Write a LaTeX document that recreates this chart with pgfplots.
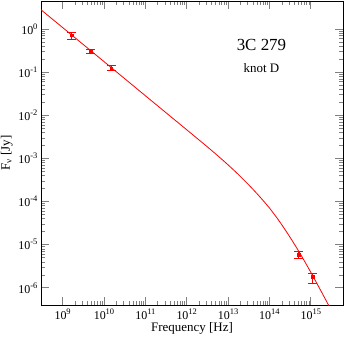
\documentclass[border=0pt]{standalone}
\usepackage{fontspec}
\setmainfont{Liberation Serif}
\usepackage{pgfplots}
\pgfplotsset{compat=1.18}
\definecolor{gred}{RGB}{255,0,0}
\pgfplotsset{ebar/.style={gred, line width=0.8bp, no marks, forget plot}}
\begin{document}
\begin{tikzpicture}
\begin{axis}[
  name=ax,
  scale only axis,
  width=302bp, height=304bp,
  xmode=log, ymode=log,
  xmin=3e8, xmax=6e15,
  ymin=4e-7, ymax=4.5,
  xtick={1e9,1e10,1e11,1e12,1e13,1e14,1e15},
  ytick={1e-6,1e-5,1e-4,1e-3,1e-2,1e-1,1},
  /pgf/number format/assume math mode=true,
  log number format basis/.code 2 args={#1\raisebox{0.9ex}{\fontsize{8.5}{9}\selectfont\pgfmathprintnumber{#2}}},
  tick label style={font=\fontsize{12}{14}\selectfont},
  major tick length=8bp, minor tick length=4bp,
  tick style={line width=0.7bp},
  axis line style={line width=0.9bp},
  xlabel={Frequency [Hz]},
  ylabel={F\textsubscript{ν} [Jy]},
  xlabel style={font=\fontsize{13}{15}\selectfont, yshift=4bp},
  ylabel style={font=\fontsize{13}{15}\selectfont, yshift=-1bp},
]
% model curve
\addplot[gred, line width=0.8bp, smooth, tension=0.5] coordinates {
  (2.512e8,3.24) (1e9,1.09) (1e10,0.177) (1e11,0.0286) (1e12,4.64e-3)
  (1.778e12,2.94e-3) (3.162e12,1.86e-3) (5.623e12,1.16e-3) (1e13,7.11e-4)
  (1.778e13,4.24e-4) (3.162e13,2.44e-4) (5.623e13,1.35e-4) (1e14,7.11e-5)
  (1.778e14,3.39e-5) (3.162e14,1.48e-5) (5.623e14,6.03e-6) (1e15,2.29e-6)
  (1.778e15,8.32e-7) (3.162e15,2.95e-7)
};
% error bars: vertical bar, lower cap, upper cap
\addplot[ebar] coordinates {(1.65e9,0.59) (1.65e9,0.85)};
\addplot[ebar] coordinates {(1.29e9,0.59) (2.11e9,0.59)};
\addplot[ebar] coordinates {(1.29e9,0.85) (2.11e9,0.85)};
\addplot[ebar] coordinates {(4.7e9,0.28) (4.7e9,0.34)};
\addplot[ebar] coordinates {(3.67e9,0.28) (6.02e9,0.28)};
\addplot[ebar] coordinates {(3.67e9,0.34) (6.02e9,0.34)};
\addplot[ebar] coordinates {(1.5e10,0.110) (1.5e10,0.144)};
\addplot[ebar] coordinates {(1.17e10,0.110) (1.92e10,0.110)};
\addplot[ebar] coordinates {(1.17e10,0.144) (1.92e10,0.144)};
\addplot[ebar] coordinates {(5.1e14,4.7e-6) (5.1e14,6.9e-6)};
\addplot[ebar] coordinates {(3.98e14,4.7e-6) (6.53e14,4.7e-6)};
\addplot[ebar] coordinates {(3.98e14,6.9e-6) (6.53e14,6.9e-6)};
\addplot[ebar] coordinates {(1.12e15,1.3e-6) (1.12e15,2.2e-6)};
\addplot[ebar] coordinates {(8.75e14,1.3e-6) (1.43e15,1.3e-6)};
\addplot[ebar] coordinates {(8.75e14,2.2e-6) (1.43e15,2.2e-6)};
% measurements
\addplot[gred, only marks, mark=square*, mark size=1.3pt] coordinates {
  (1.65e9,0.72) (4.7e9,0.31) (1.5e10,0.124) (5.1e14,5.9e-6) (1.12e15,1.8e-6)
};
\node[font=\fontsize{17}{19}\selectfont] at (rel axis cs:0.73,0.855) {3C 279};
\node[font=\fontsize{13}{15}\selectfont] at (rel axis cs:0.73,0.78) {knot D};
\end{axis}
\pgfresetboundingbox
\path ([shift={(-41bp,-34bp)}]ax.south west) rectangle ([shift={(3bp,1bp)}]ax.north east);
\end{tikzpicture}
\end{document}
